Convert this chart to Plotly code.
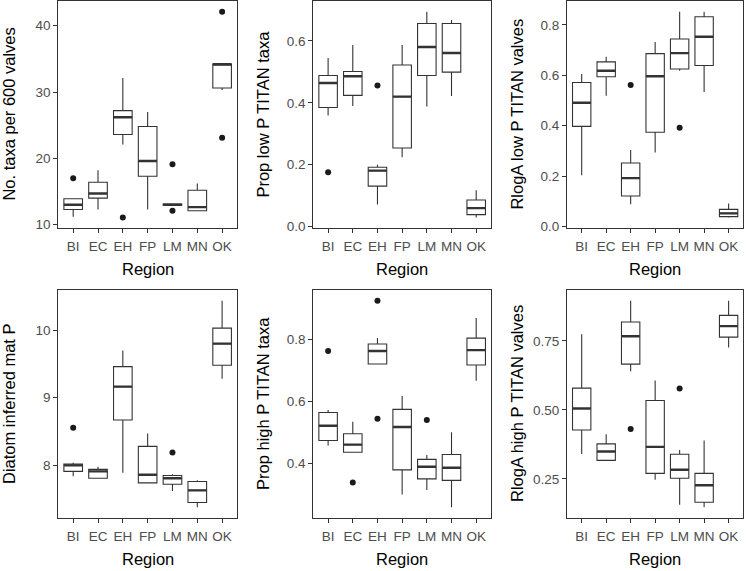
import plotly.graph_objects as go

W, H = 746, 571

categories = ["BI", "EC", "EH", "FP", "LM", "MN", "OK"]

# Panel 1: No. taxa per 600 valves
taxa_lo  = [11.2, 12.3, 22.1, 12.3, 12.95, 12.1, 30.3]
taxa_q1  = [12.3, 14.0, 23.6, 17.3, 12.95, 12.1, 30.6]
taxa_med = [13.0, 14.7, 26.2, 19.6, 13.0, 12.65, 34.2]
taxa_q3  = [13.9, 16.4, 27.2, 24.8, 13.1, 15.2, 34.2]
taxa_hi  = [14.0, 18.2, 32.1, 27.0, 13.1, 16.2, 34.2]
taxa_out_x = ["BI", "EH", "LM", "LM", "OK", "OK"]
taxa_out_y = [17.0, 11.1, 19.1, 12.1, 42.1, 23.1]
taxa_ticks = [10, 20, 30, 40]

# Panel 2: Prop low P TITAN taxa
plow_lo  = [0.359, 0.390, 0.072, 0.224, 0.388, 0.422, 0.030]
plow_q1  = [0.385, 0.424, 0.131, 0.254, 0.488, 0.499, 0.039]
plow_med = [0.464, 0.486, 0.181, 0.420, 0.580, 0.561, 0.060]
plow_q3  = [0.488, 0.501, 0.192, 0.522, 0.656, 0.656, 0.086]
plow_hi  = [0.545, 0.587, 0.200, 0.587, 0.694, 0.667, 0.118]
plow_out_x = ["BI", "EH"]
plow_out_y = [0.176, 0.456]
plow_ticks = [0.0, 0.2, 0.4, 0.6]

# Panel 3: RlogA low P TITAN valves
rlow_lo  = [0.203, 0.519, 0.088, 0.294, 0.618, 0.534, 0.036]
rlow_q1  = [0.397, 0.594, 0.121, 0.374, 0.625, 0.639, 0.039]
rlow_med = [0.491, 0.618, 0.192, 0.596, 0.688, 0.753, 0.052]
rlow_q3  = [0.571, 0.653, 0.252, 0.686, 0.744, 0.832, 0.068]
rlow_hi  = [0.605, 0.673, 0.303, 0.732, 0.852, 0.852, 0.091]
rlow_out_x = ["EH", "LM"]
rlow_out_y = [0.561, 0.392]
rlow_ticks = [0.0, 0.2, 0.4, 0.6, 0.8]

# Panel 4: Diatom inferred mat P
matp_lo  = [7.84, 7.81, 7.89, 7.74, 7.62, 7.38, 9.28]
matp_q1  = [7.91, 7.81, 8.67, 7.74, 7.72, 7.45, 9.48]
matp_med = [8.00, 7.91, 9.165, 7.86, 7.81, 7.63, 9.80]
matp_q3  = [8.02, 7.94, 9.46, 8.28, 7.85, 7.76, 10.03]
matp_hi  = [8.04, 7.98, 9.70, 8.47, 7.87, 7.78, 10.435]
matp_out_x = ["BI", "LM"]
matp_out_y = [8.555, 8.19]
matp_ticks = [8, 9, 10]

# Panel 5: Prop high P TITAN taxa
phigh_lo  = [0.457, 0.435, 0.721, 0.298, 0.313, 0.257, 0.667]
phigh_q1  = [0.473, 0.435, 0.721, 0.378, 0.349, 0.344, 0.718]
phigh_med = [0.521, 0.460, 0.763, 0.517, 0.388, 0.385, 0.766]
phigh_q3  = [0.564, 0.495, 0.786, 0.574, 0.412, 0.428, 0.805]
phigh_hi  = [0.572, 0.534, 0.805, 0.617, 0.426, 0.500, 0.870]
phigh_out_x = ["BI", "EC", "EH", "EH", "LM"]
phigh_out_y = [0.763, 0.337, 0.926, 0.544, 0.540]
phigh_ticks = [0.4, 0.6, 0.8]

# Panel 6: RlogA high P TITAN valves
rhigh_lo  = [0.340, 0.317, 0.640, 0.247, 0.156, 0.147, 0.726]
rhigh_q1  = [0.427, 0.317, 0.666, 0.270, 0.252, 0.165, 0.764]
rhigh_med = [0.505, 0.349, 0.767, 0.366, 0.283, 0.227, 0.804]
rhigh_q3  = [0.579, 0.377, 0.819, 0.534, 0.339, 0.270, 0.843]
rhigh_hi  = [0.774, 0.412, 0.896, 0.607, 0.355, 0.389, 0.896]
rhigh_out_x = ["EH", "LM"]
rhigh_out_y = [0.431, 0.578]
rhigh_ticks = [0.25, 0.50, 0.75]

y_titles = ["No. taxa per 600 valves", "Prop low P TITAN taxa", "RlogA low P TITAN valves",
            "Diatom inferred mat P", "Prop high P TITAN taxa", "RlogA high P TITAN valves"]
x_title = "Region"

panels = [
    (taxa_lo, taxa_q1, taxa_med, taxa_q3, taxa_hi, taxa_out_x, taxa_out_y, taxa_ticks, "d"),
    (plow_lo, plow_q1, plow_med, plow_q3, plow_hi, plow_out_x, plow_out_y, plow_ticks, ".1f"),
    (rlow_lo, rlow_q1, rlow_med, rlow_q3, rlow_hi, rlow_out_x, rlow_out_y, rlow_ticks, ".1f"),
    (matp_lo, matp_q1, matp_med, matp_q3, matp_hi, matp_out_x, matp_out_y, matp_ticks, "d"),
    (phigh_lo, phigh_q1, phigh_med, phigh_q3, phigh_hi, phigh_out_x, phigh_out_y, phigh_ticks, ".1f"),
    (rhigh_lo, rhigh_q1, rhigh_med, rhigh_q3, rhigh_hi, rhigh_out_x, rhigh_out_y, rhigh_ticks, ".2f"),
]

# plot-area pixel boxes (left, right) per column, (top, bottom) per row
col_px = [(58.3, 237.0), (313.3, 491.0), (567.0, 743.3)]
row_px = [(1.5, 230.5), (294.0, 524.0)]
ytitle_x = [9, 263, 517]

LINE = "#333333"
TICKC = "#4D4D4D"
FONT = "Liberation Sans, Arial, sans-serif"
TICK_SIZE = 13.5
TITLE_SIZE = 16.5

fig = go.Figure()
shapes = []
annotations = []
layout_axes = {}

for k, (lo, q1, med, q3, hi, ox, oy, ticks, fmt) in enumerate(panels):
    idx = k + 1
    r, c = divmod(k, 3)
    xa = "x" if idx == 1 else f"x{idx}"
    ya = "y" if idx == 1 else f"y{idx}"
    fig.add_trace(go.Box(
        x=categories, q1=q1, median=med, q3=q3, lowerfence=lo, upperfence=hi,
        boxpoints=False, fillcolor="white", width=0.75, whiskerwidth=0,
        line=dict(color=LINE, width=1.1), xaxis=xa, yaxis=ya, showlegend=False,
        hoverinfo="skip"))
    fig.add_trace(go.Scatter(
        x=ox, y=oy, mode="markers", marker=dict(color="#1a1a1a", size=6),
        xaxis=xa, yaxis=ya, showlegend=False, hoverinfo="skip"))
    for j, m in enumerate(med):
        shapes.append(dict(type="line", xref=xa, yref=ya, x0=j - 0.375, x1=j + 0.375,
                           y0=m, y1=m, line=dict(color=LINE, width=2.4)))
    allv = list(lo) + list(hi) + list(oy)
    vmin, vmax = min(allv), max(allv)
    pad = (vmax - vmin) * 0.05
    x0p, x1p = col_px[c]
    t, b = row_px[r]
    xkey = "xaxis" if idx == 1 else f"xaxis{idx}"
    ykey = "yaxis" if idx == 1 else f"yaxis{idx}"
    layout_axes[xkey] = dict(
        domain=[x0p / W, x1p / W], anchor=ya, type="category",
        categoryorder="array", categoryarray=categories, range=[-0.6, 6.6],
        showline=True, mirror=True, linecolor=LINE, linewidth=1,
        ticks="outside", ticklen=4, tickcolor=LINE, tickwidth=1,
        ticklabelstandoff=2,
        tickfont=dict(family=FONT, size=TICK_SIZE, color=TICKC),
        showgrid=False, zeroline=False, fixedrange=True)
    layout_axes[ykey] = dict(
        domain=[1 - b / H, 1 - t / H], anchor=xa,
        range=[vmin - pad, vmax + pad], tickvals=ticks, tickformat=fmt,
        showline=True, mirror=True, linecolor=LINE, linewidth=1,
        ticks="outside", ticklen=4, tickcolor=LINE, tickwidth=1,
        tickfont=dict(family=FONT, size=TICK_SIZE, color=TICKC),
        showgrid=False, zeroline=False, fixedrange=True)
    annotations.append(dict(
        text=y_titles[k], xref="paper", yref="paper", x=ytitle_x[c] / W,
        y=1 - ((t + b) / 2) / H, textangle=-90, showarrow=False,
        xanchor="center", yanchor="middle",
        font=dict(family=FONT, size=TITLE_SIZE, color="black")))
    annotations.append(dict(
        text=x_title, xref="paper", yref="paper", x=((x0p + x1p) / 2) / W,
        y=1 - (b + 42) / H, showarrow=False, xanchor="center", yanchor="middle",
        font=dict(family=FONT, size=TITLE_SIZE, color="black")))

fig.update_layout(
    width=W, height=H, margin=dict(l=0, r=0, t=0, b=0),
    paper_bgcolor="white", plot_bgcolor="white",
    shapes=shapes, annotations=annotations, showlegend=False,
    **layout_axes)

fig.write_html("out.html")
